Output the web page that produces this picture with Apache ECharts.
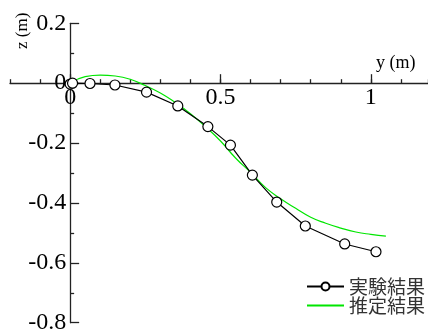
<!DOCTYPE html>
<html><head><meta charset="utf-8">
<script src="https://cdn.jsdelivr.net/npm/echarts@6/dist/echarts.min.js"></script>
<style>html,body{margin:0;padding:0;background:#fff}#c{width:428px;height:333px}</style>
</head><body><div id="c"></div>
<script>
var expX = [0.0, 0.008, 0.066, 0.149, 0.254, 0.358, 0.458, 0.533, 0.606, 0.687, 0.782, 0.913, 1.017];
var expY = [-0.003, 0.0, -0.001, -0.006, -0.030, -0.076, -0.145, -0.207, -0.307, -0.397, -0.477, -0.537, -0.563];
var estX = [0, 0.05, 0.1, 0.15, 0.2, 0.25, 0.3, 0.35, 0.4, 0.45, 0.5, 0.55, 0.6, 0.65, 0.7, 0.75, 0.8, 0.85, 0.9, 0.95, 1.0, 1.05];
var estY = [0, 0.022, 0.027, 0.024, 0.013, -0.008, -0.033, -0.065, -0.102, -0.145, -0.193, -0.25, -0.298, -0.349, -0.386, -0.418, -0.448, -0.468, -0.484, -0.497, -0.505, -0.511];
var xMajorTicks = [0, 0.5, 1];
var seriesNames = ['実験結果', '推定結果'];
var xName = 'y (m)', yName = 'z (m)';
var xMin = -0.2, xMax = 1.19, yMin = -0.8, yMax = 0.2;

var serif = '"Liberation Serif","Times New Roman",serif';
var W = 428, H = 333;
var G = {left: 10, right: 0, top: 23.3, bottom: 10.3};
var gw = W - G.left - G.right, gh = H - G.top - G.bottom;
// shift axes so they cross at the origin
var yAxisOffset = -(0 - xMin) / (xMax - xMin) * gw;
var xAxisOffset = -(0 - yMin) / (yMax - yMin) * gh;

var chart = echarts.init(document.getElementById('c'));
var axisCol = '#222';
function pairs(xs, ys){ return xs.map(function(x,i){return [x, ys[i]];}); }
chart.setOption({
  animation: false,
  grid: {left: G.left, right: G.right, top: G.top, bottom: G.bottom, containLabel: false, outerBoundsMode: 'none'},
  xAxis: [{
    type: 'value', min: xMin, max: xMax, interval: 0.1, position: 'bottom', offset: xAxisOffset,
    axisLine: {onZero: false, lineStyle: {color: axisCol, width: 1.3}},
    axisTick: {inside: true, length: 4, lineStyle: {color: axisCol, width: 1.3}},
    axisLabel: {show: false}, splitLine: {show: false}
  }, {
    type: 'value', min: xMin, max: xMax, position: 'bottom', offset: xAxisOffset,
    axisLine: {onZero: false, show: false},
    axisTick: {inside: true, length: 9, customValues: xMajorTicks, lineStyle: {color: axisCol, width: 1.3}},
    axisLabel: {customValues: xMajorTicks, margin: 3, fontFamily: serif, fontSize: 24, color: '#000',
      formatter: function(v){return String(v);}},
    splitLine: {show: false}
  }],
  yAxis: {
    type: 'value', min: yMin, max: yMax, interval: 0.2, position: 'left', offset: yAxisOffset,
    axisLine: {onZero: false, lineStyle: {color: axisCol, width: 1.3}},
    axisTick: {inside: true, length: 9, lineStyle: {color: axisCol, width: 1.3}},
    minorTick: {show: true, splitNumber: 2, length: 4, lineStyle: {color: axisCol, width: 1.3}},
    axisLabel: {margin: 4, fontFamily: serif, fontSize: 24, color: '#000',
      formatter: function(v){return String(Math.round(v*10)/10);}},
    splitLine: {show: false}
  },
  legend: {
    orient: 'vertical', left: 301, top: 272, itemWidth: 37, itemHeight: 10, itemGap: 0,
    data: [{name: seriesNames[0]}, {name: seriesNames[1], itemStyle: {opacity: 0}}],
    textStyle: {fontFamily: '"Noto Sans CJK JP"', fontSize: 19, lineHeight: 19, color: '#333'}
  },
  graphic: [
    {type: 'text', left: 376, top: 54, style: {text: xName, font: '18px ' + serif, fill: '#000'}},
    {type: 'text', x: 14, y: 49, rotation: Math.PI/2, style: {text: yName, font: '17px ' + serif, fill: '#000'}}
  ],
  series: [{
    name: seriesNames[0], type: 'line', data: pairs(expX, expY), xAxisIndex: 0,
    symbol: 'circle', symbolSize: 10, showAllSymbol: true,
    lineStyle: {color: '#000', width: 1.2},
    itemStyle: {color: '#fff', borderColor: '#000', borderWidth: 1.2}, z: 3
  }, {
    name: seriesNames[1], type: 'line', data: pairs(estX, estY), xAxisIndex: 0,
    symbol: 'none', smooth: true,
    lineStyle: {color: '#00e600', width: 1.2}, itemStyle: {color: '#00e600'}, z: 2
  }]
});
</script></body></html>
